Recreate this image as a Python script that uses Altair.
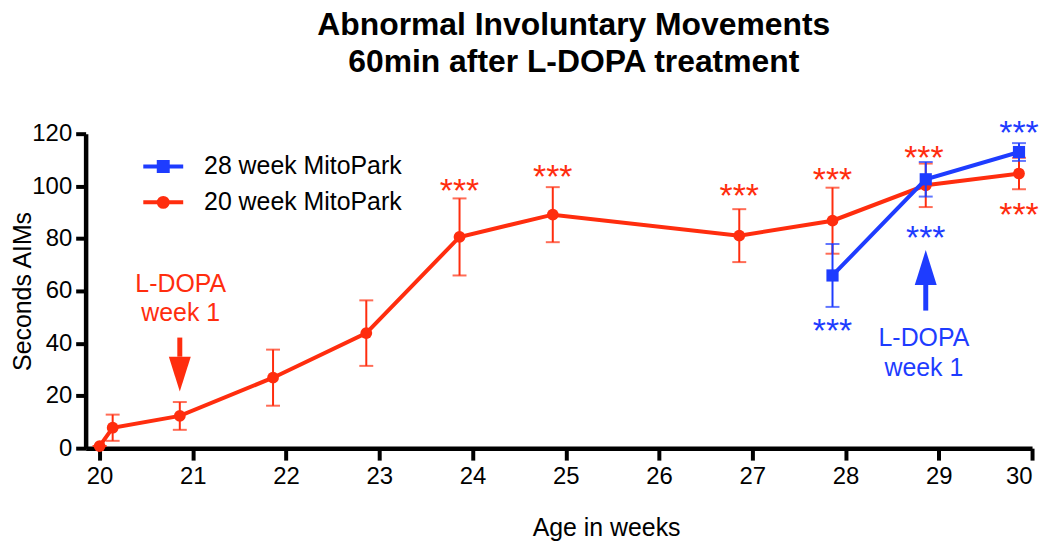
import altair as alt
import pandas as pd

RED = "#FF2D0E"
BLUE = "#1E3CFF"
FONT = "Liberation Sans"

# ---- data ----
red_name = "20 week MitoPark"
red_x = [20.0, 20.14, 20.86, 21.86, 22.86, 23.86, 24.86, 26.86, 27.86, 28.86, 29.86]
red_mean = [0.8, 7.8, 12.3, 26.9, 43.9, 80.6, 89.1, 81.1, 86.8, 100.3, 104.8]
red_sem = [0.0, 5.0, 5.3, 10.7, 12.5, 14.7, 10.5, 10.1, 12.6, 8.3, 6.0]

blue_name = "28 week MitoPark"
blue_x = [27.86, 28.86, 29.86]
blue_mean = [65.9, 102.6, 113.0]
blue_sem = [12.0, 6.6, 3.4]

red_star_x = [23.86, 24.86, 26.86, 27.86, 28.84, 29.86]
red_star_y = [101.0, 106.3, 99.1, 105.3, 113.9, 91.9]
blue_star_x = [27.86, 28.86, 29.86]
blue_star_y = [47.9, 83.2, 123.4]

arrow_x = [20.86, 28.86]
arrow_tail = [42.2, 52.5]
arrow_base = [34.9, 62.3]
arrow_tip = [21.6, 75.6]
arrow_dir = ["down", "up"]
arrow_color = [RED, BLUE]

note_x = [20.87, 20.87, 28.84, 28.84]
note_y = [59.7, 48.6, 38.9, 27.5]
note_text = ["L-DOPA", "week 1", "L-DOPA", "week 1"]
note_color = [RED, RED, BLUE, BLUE]

x_ticks = list(range(20, 31))
y_ticks = list(range(0, 121, 20))

# ---- tables ----
red = pd.DataFrame({"x": red_x, "mean": red_mean, "sem": red_sem, "series": red_name})
blue = pd.DataFrame({"x": blue_x, "mean": blue_mean, "sem": blue_sem, "series": blue_name})
for d in (red, blue):
    d["lo"] = d["mean"] - d["sem"]
    d["hi"] = d["mean"] + d["sem"]

stars = pd.DataFrame({
    "x": red_star_x + blue_star_x,
    "y": red_star_y + blue_star_y,
    "c": [RED] * len(red_star_x) + [BLUE] * len(blue_star_x),
    "t": "***",
})
arrows = pd.DataFrame({"x": arrow_x, "tail": arrow_tail, "base": arrow_base,
                       "tip": arrow_tip, "dir": arrow_dir, "c": arrow_color})
arrows["head"] = (arrows["base"] + arrows["tip"]) / 2
notes = pd.DataFrame({"x": note_x, "y": note_y, "t": note_text, "c": note_color})

xs = alt.Scale(domain=[19.85, 30], nice=False, zero=False)
ys = alt.Scale(domain=[0, 120], nice=False, zero=False)

x_axis = alt.Axis(values=x_ticks, format="d", title="Age in weeks", grid=False,
                  labelFontSize=24, titleFontSize=25, titleFontWeight="normal",
                  tickSize=12, tickWidth=4, domainWidth=4.5, labelPadding=5,
                  titleX=523, titleY=88, titleBaseline="alphabetic")
y_axis = alt.Axis(values=y_ticks, format="d", title="Seconds AIMs", grid=False,
                  labelFontSize=24, titleFontSize=25, titleFontWeight="normal",
                  tickSize=10, tickWidth=4, domainWidth=4.5, labelPadding=4,
                  titleX=-55, titleBaseline="alphabetic")

X = alt.X("x:Q", scale=xs, axis=x_axis)
Y = alt.Y("mean:Q", scale=ys, axis=y_axis)


def series_layers(df, color, shape, size):
    base = alt.Chart(df)
    bars = base.mark_rule(strokeWidth=2, color=color).encode(
        x=X, y=alt.Y("lo:Q", scale=ys), y2="hi:Q")
    caps = base.transform_fold(["lo", "hi"], as_=["k", "v"]).mark_tick(
        orient="horizontal", size=14, thickness=2, color=color).encode(
        x=X, y=alt.Y("v:Q", scale=ys))
    line = base.mark_line(strokeWidth=4, color=color).encode(x=X, y=Y)
    pts = base.mark_point(filled=True, opacity=1, shape=shape, size=size, color=color).encode(x=X, y=Y)
    return [bars, caps, line, pts]


layers = series_layers(red, RED, "circle", 140) + series_layers(blue, BLUE, "square", 150)

star_layer = alt.Chart(stars).mark_text(font=FONT, fontSize=34, baseline="alphabetic",
                                        align="center", dy=19).encode(
    x=alt.X("x:Q", scale=xs), y=alt.Y("y:Q", scale=ys),
    text="t:N", color=alt.Color("c:N", scale=None))

shaft = alt.Chart(arrows).mark_rule(strokeWidth=5, strokeCap="butt").encode(
    x=alt.X("x:Q", scale=xs), y=alt.Y("tail:Q", scale=ys), y2="base:Q",
    color=alt.Color("c:N", scale=None))
head = alt.Chart(arrows).mark_point(filled=True, opacity=1, size=1225).encode(
    x=alt.X("x:Q", scale=xs), y=alt.Y("head:Q", scale=ys),
    shape=alt.Shape("dir:N", scale=alt.Scale(domain=["down", "up"],
                    range=["M-0.63,-1L0.63,-1L0,1Z", "M-0.63,1L0.63,1L0,-1Z"]), legend=None),
    color=alt.Color("c:N", scale=None))

note_layer = alt.Chart(notes).mark_text(font=FONT, fontSize=25, baseline="alphabetic",
                                        align="center").encode(
    x=alt.X("x:Q", scale=xs), y=alt.Y("y:Q", scale=ys),
    text="t:N", color=alt.Color("c:N", scale=None))

SQ = ("M-1.18,0H1.18M-0.265,-0.265H0.265V0.265H-0.265Z"
      "M-0.09,-0.09H0.09V0.09H-0.09Z")
CI = ("M-1.18,0H1.18M0.265,0A0.265,0.265,0,1,1,-0.265,0A0.265,0.265,0,1,1,0.265,0Z"
      "M0.09,0A0.09,0.09,0,1,1,-0.09,0A0.09,0.09,0,1,1,0.09,0Z")


def legend_layer(df, name, color, path, ly):
    leg = alt.Legend(orient="none", legendX=59, legendY=ly, title=None, padding=0,
                     labelFontSize=25, labelFont=FONT, labelColor="black", labelOffset=22,
                     symbolSize=1156, symbolStrokeWidth=4, symbolOpacity=1,
                     symbolStrokeColor=color, symbolType=path, labelLimit=400)
    return alt.Chart(df).mark_point(filled=False, opacity=0, shape=path).encode(
        x=alt.X("x:Q", scale=xs), y=alt.Y("mean:Q", scale=ys),
        color=alt.Color("series:N", scale=alt.Scale(domain=[name], range=[color]), legend=leg),
    )


leg_blue = legend_layer(blue, blue_name, BLUE, SQ, 14)
leg_red = legend_layer(red, red_name, RED, CI, 50)

chart = alt.layer(*layers, star_layer, shaft, head, note_layer, leg_blue, leg_red).resolve_scale(
    color="independent", shape="independent"
).resolve_legend(color="independent").properties(
    width=951, height=316,
    background="white",
    autosize=alt.AutoSizeParams(type="none"),
    padding={"left": 78, "top": 125, "right": 10, "bottom": 95},
    title=alt.TitleParams(
        text=["Abnormal Involuntary Movements", "60min after L-DOPA treatment"],
        font=FONT, fontSize=32, fontWeight="bold", lineHeight=37, color="black",
        anchor="middle", dx=15, offset=38),
).configure_view(stroke=None).configure_axis(
    labelFont=FONT, titleFont=FONT, labelColor="black", titleColor="black",
    domainColor="black", tickColor="black"
)

chart.save("out.html", embed_options={"renderer": "svg", "actions": False})
